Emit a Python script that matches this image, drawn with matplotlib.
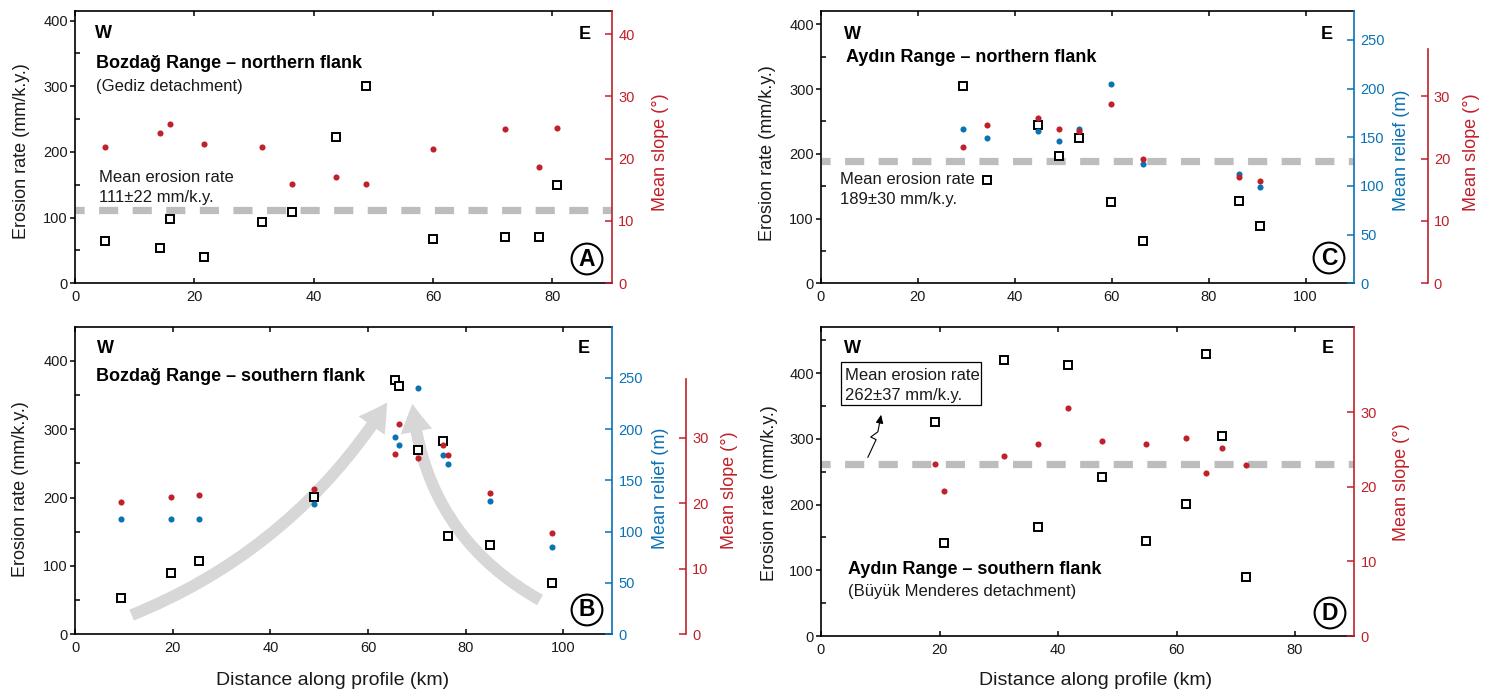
import matplotlib
matplotlib.use("Agg")
import matplotlib.pyplot as plt
from matplotlib.patches import FancyArrowPatch, Rectangle
from matplotlib.path import Path

plt.rcParams["font.family"] = ["Liberation Sans", "DejaVu Sans"]
plt.rcParams["axes.linewidth"] = 1.2

# ---------------- data ----------------
# Panel A: Bozdag Range - northern flank
a_dist = [5.1, 14.2, 15.9, 21.7, 31.3, 36.4, 43.8, 48.7, 60.0, 72.1, 77.7, 80.7]
a_erosion = [64, 53, 98, 40, 93, 109, 223, 300, 68, 70, 71, 150]
a_slope = [21.9, 24.2, 25.5, 22.4, 21.8, 16.0, 17.1, 16.0, 21.5, 24.7, 18.6, 24.9]
a_mean = 111

# Panel B: Bozdag Range - southern flank
b_dist = [9.4, 19.7, 25.4, 49.0, 65.5, 66.4, 70.3, 75.4, 76.3, 85.0, 97.6]
b_erosion = [52.5, 89, 107, 201, 372, 363, 270, 283, 143, 131, 75]
b_relief = [112.6, 112, 112.6, 126.6, 192, 184.4, 240.6, 174.7, 166.5, 129.5, 85.3]
b_slope = [20.2, 20.9, 21.2, 22.1, 27.5, 32.1, 26.9, 28.8, 27.4, 21.6, 15.5]

# Panel C: Aydin Range - northern flank
c_dist = [29.3, 34.2, 44.8, 49.1, 53.2, 59.9, 66.5, 86.3, 90.5]
c_erosion = [305, 160, 244, 197, 225, 125, 66, 127, 89]
c_relief = [158, 149, 156, 146, 158, 205, 123, 112, 99]
c_slope = [21.9, 25.4, 26.6, 24.8, 24.5, 28.7, 19.9, 17.0, 16.4]
c_mean = 189

# Panel D: Aydin Range - southern flank
d_dist = [19.3, 20.7, 30.9, 36.6, 41.6, 47.5, 54.9, 61.6, 64.9, 67.6, 71.7]
d_erosion = [326, 142, 420, 166, 413, 242, 145, 201, 430, 305, 90]
d_slope = [23.1, 19.4, 24.2, 25.7, 30.6, 26.1, 25.7, 26.6, 21.9, 25.2, 22.9]
d_mean = 262

# trend arrows in B (distance, erosion)
b_arrow1 = [(11.6, 28), (63.9, 339)]
b_arrow2 = [(95.2, 50), (69.1, 337)]
# zigzag pointer in D (distance, erosion)
d_zigzag = [(7.9, 272), (9.3, 299), (8.4, 303), (9.6, 311), (10.15, 337)]

# ---------------- style ----------------
RED = "#c0202a"
BLUE = "#0b72b5"
LINEGRAY = "#bdbdbd"
ARROWGRAY = "#d7d7d7"
TXT = "#1a1a1a"

W, H = 1494, 694
fig = plt.figure(figsize=(W / 100, H / 100), dpi=100)


def make_axes(l, t, r, b):
    return fig.add_axes([l / W, 1 - b / H, (r - l) / W, (b - t) / H])


def ftext(x, y, s, **kw):
    return fig.text(x / W, 1 - y / H, s, **kw)


def style_main(ax, xmax, xticks, ymax, labx, laby):
    ax.set_xlim(0, xmax)
    ax.set_ylim(0, ymax)
    ax.set_xticks(xticks)
    ax.set_yticks([0, 100, 200, 300, 400])
    ax.set_yticks([v for v in (50, 150, 250, 350, 450) if v < ymax], minor=True)
    ax.tick_params(axis="x", which="major", direction="in", top=True, length=3.6,
                   width=1.1, pad=5, labelsize=10.5, labelcolor=TXT)
    ax.tick_params(axis="y", which="major", direction="out", length=3.6, width=1.1,
                   pad=1.5, labelsize=10.5, labelcolor=TXT)
    ax.tick_params(axis="y", which="minor", direction="in", length=3.6, width=1.1)
    ax.spines["right"].set_visible(False)
    ax.set_ylabel("Erosion rate (mm/k.y.)", fontsize=13, color=TXT)
    ax.yaxis.set_label_coords(labx, laby)


def add_twin(ax, color, ymax, ticks, label, labx, laby=0.48, offset=None, bound=None):
    t = ax.twinx()
    t.set_ylim(0, ymax)
    t.set_yticks(ticks)
    for s in ("left", "top", "bottom"):
        t.spines[s].set_visible(False)
    t.spines["right"].set_color(color)
    t.spines["right"].set_linewidth(1.2)
    if offset is not None:
        t.spines["right"].set_position(("outward", offset))
    if bound is not None:
        t.spines["right"].set_bounds(0, bound)
    t.tick_params(axis="y", direction="in", length=5, width=1.1, color=color,
                  labelcolor=color, labelsize=10.5, pad=4.5)
    t.set_ylabel(label, color=color, fontsize=13)
    t.yaxis.set_label_coords(labx, laby)
    return t


def squares(ax, x, y):
    ax.plot(x, y, ls="none", marker="s", ms=5.2, mfc="white", mec="black",
            mew=1.4, zorder=4)


def dots(ax, x, y, color):
    ax.plot(x, y, ls="none", marker="o", ms=4.4, mfc=color, mec="none", zorder=5)


def mean_line(ax, value):
    ax.axhline(value, color=LINEGRAY, lw=5.2, ls=(1.385, (2.65, 2.0)), zorder=2)


def circled(x, y, s):
    ftext(x, y, s, ha="center", va="center", fontsize=16.5, fontweight="bold",
          bbox=dict(boxstyle="circle,pad=0.17", fc="white", ec="black", lw=1.5))


def we(xw, yw, xe, ye):
    ftext(xw, yw, "W", ha="left", va="baseline", fontsize=13, fontweight="bold")
    ftext(xe, ye, "E", ha="right", va="baseline", fontsize=13, fontweight="bold")


# ---------------- Panel A ----------------
axA = make_axes(75, 10.7, 612, 283.3)
style_main(axA, 90, [0, 20, 40, 60, 80], 415, -0.0847, 0.485)
mean_line(axA, a_mean)
squares(axA, a_dist, a_erosion)
tA = add_twin(axA, RED, 43.75, [0, 10, 20, 30, 40], "Mean slope (°)", 1.0736, 0.48)
dots(tA, a_dist, a_slope, RED)
we(95, 38, 591, 39)
ftext(96, 67.7, "Bozdağ Range – northern flank", fontsize=13, fontweight="bold", va="baseline")
ftext(96, 90.7, "(Gediz detachment)", fontsize=12, va="baseline", color=TXT)
ftext(99, 181.7, "Mean erosion rate", fontsize=12, va="baseline", color=TXT)
ftext(99, 201.7, "111±22 mm/k.y.", fontsize=12, va="baseline", color=TXT)
circled(587, 259, "A")

# ---------------- Panel C ----------------
axC = make_axes(821, 10.7, 1354, 283.3)
style_main(axC, 110, [0, 20, 40, 60, 80, 100], 421, -0.0835, 0.476)
mean_line(axC, c_mean)
squares(axC, c_dist, c_erosion)
tCb = add_twin(axC, BLUE, 280, [0, 50, 100, 150, 200, 250], "Mean relief (m)", 1.0741, 0.489)
dots(tCb, c_dist, c_relief, BLUE)
tCr = add_twin(axC, RED, 43.75, [0, 10, 20, 30], "Mean slope (°)", 1.2054, 0.48,
               offset=53, bound=37.6)
dots(tCr, c_dist, c_slope, RED)
we(843.5, 39, 1333, 39.3)
ftext(845.5, 61.7, "Aydın Range – northern flank", fontsize=13, fontweight="bold", va="baseline")
ftext(840, 184.3, "Mean erosion rate", fontsize=12, va="baseline", color=TXT)
ftext(840, 203.7, "189±30 mm/k.y.", fontsize=12, va="baseline", color=TXT)
circled(1329, 258, "C")

# ---------------- Panel B ----------------
axB = make_axes(75, 326.7, 612.3, 634.2)
style_main(axB, 110, [0, 20, 40, 60, 80, 100], 450, -0.0847, 0.472)
for (p0, p1), rad in ((b_arrow1, 0.16), (b_arrow2, -0.26)):
    arr = FancyArrowPatch(p0, p1, connectionstyle=f"arc3,rad={rad}",
                          arrowstyle="simple,head_length=2.0,head_width=2.3,tail_width=0.85",
                          mutation_scale=10, fc=ARROWGRAY, ec="none", zorder=1,
                          shrinkA=0, shrinkB=0)
    axB.add_patch(arr)
squares(axB, b_dist, b_erosion)
tBb = add_twin(axB, BLUE, 300, [0, 50, 100, 150, 200, 250], "Mean relief (m)", 1.0736, 0.475)
dots(tBb, b_dist, b_relief, BLUE)
tBr = add_twin(axB, RED, 46.9, [0, 10, 20, 30], "Mean slope (°)", 1.2020, 0.469,
               offset=53, bound=38.9)
dots(tBr, b_dist, b_slope, RED)
axB.set_xlabel("Distance along profile (km)", fontsize=14, color=TXT)
axB.xaxis.set_label_coords(0.48, -0.122)
we(97, 353, 590, 353.3)
ftext(96.4, 381, "Bozdağ Range – southern flank", fontsize=13, fontweight="bold", va="baseline")
circled(587, 610, "B")

# ---------------- Panel D ----------------
axD = make_axes(821, 326.7, 1354.3, 636)
style_main(axD, 90, [0, 20, 40, 60, 80], 471, -0.0797, 0.463)
mean_line(axD, d_mean)
squares(axD, d_dist, d_erosion)
tD = add_twin(axD, RED, 41.5, [0, 10, 20, 30], "Mean slope (°)", 1.0732, 0.497)
dots(tD, d_dist, d_slope, RED)
axD.set_xlabel("Distance along profile (km)", fontsize=14, color=TXT)
axD.xaxis.set_label_coords(0.515, -0.115)
axD.add_patch(Rectangle((0.0375, 0.7466), 0.2627, 0.1379, transform=axD.transAxes,
                        fc="white", ec="black", lw=0.9, zorder=6))
zig = FancyArrowPatch(path=Path(d_zigzag), arrowstyle="-|>,head_length=0.5,head_width=0.22",
                      mutation_scale=10, color="black", lw=0.8, zorder=6)
axD.add_patch(zig)
we(843.5, 352.7, 1334, 352.7)
ftext(845, 380, "Mean erosion rate", fontsize=12, va="baseline", color=TXT, zorder=10)
ftext(845, 400, "262±37 mm/k.y.", fontsize=12, va="baseline", color=TXT, zorder=10)
ftext(848.4, 574, "Aydın Range – southern flank", fontsize=13, fontweight="bold", va="baseline")
ftext(848.4, 596, "(Büyük Menderes detachment)", fontsize=12, va="baseline", color=TXT)
circled(1330, 613, "D")

fig.savefig("out.png", dpi=100)
